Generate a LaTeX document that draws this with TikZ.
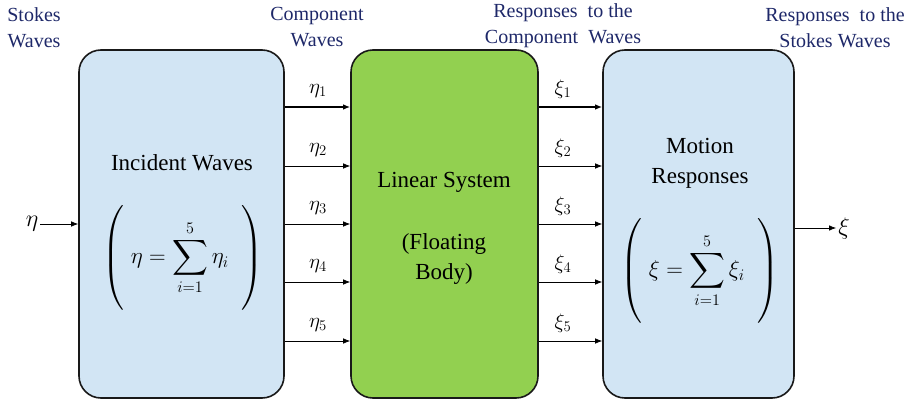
\RequirePackage{fix-cm}
\documentclass[tikz,border=0pt]{standalone}
\usepackage{amsmath}
\usepackage{fontspec}
\setmainfont{Liberation Serif}
\usetikzlibrary{arrows.meta}
\definecolor{boxblue}{RGB}{210,229,244}
\definecolor{boxgreen}{RGB}{146,208,80}
\definecolor{navy}{RGB}{30,40,105}
\begin{document}
\begin{tikzpicture}[x=1pt,y=-1pt,
  box/.style={draw=black!90, line width=1.6pt, rounded corners=22pt, minimum height=348pt, inner sep=0pt},
  toplbl/.style={text=navy, font=\fontsize{20}{26}\selectfont, align=center},
  intext/.style={font=\fontsize{23}{30}\selectfont, align=center},
  mathtxt/.style={font=\fontsize{23}{27}\selectfont},
  lbl/.style={font=\fontsize{21}{24}\selectfont, inner sep=1pt},
  arr/.style={-{Latex[length=7pt,width=5.5pt]}, line width=0.7pt},
  arrb/.style={arr, line width=1.3pt}]
\useasboundingbox (0,0) rectangle (916,404);

% boxes
\node[box, fill=boxblue,  minimum width=205pt] (lb) at (181.5,224) {};
\node[box, fill=boxgreen, minimum width=187pt] (gb) at (444.5,224) {};
\node[box, fill=boxblue,  minimum width=191pt] (rb) at (698.5,224) {};

% box texts
\node[intext] (inc) at (182,163) {Incident Waves};
\node[mathtxt] (lf) at (183,258) {$\displaystyle\left(\vrule height 46pt depth 46pt width 0pt\;\eta = \sum_{i=1}^{5}\eta_i\;\;\right)$};
\node[intext] (lin) at (444,182) {Linear System};
\node[intext] (flo) at (444,259) {(Floating\\Body)};
\node[intext] (mot) at (700,163) {Motion\\Responses};
\node[mathtxt] (rf) at (700,271) {$\displaystyle\left(\vrule height 46pt depth 46pt width 0pt\;\xi = \sum_{i=1}^{5}\xi_i\;\;\right)$};

% top labels
\node[toplbl] (t1) at (34,28) {Stokes\\Waves};
\node[toplbl] (t2) at (317,27) {Component\\Waves};
\node[toplbl] (t3) at (563,26) {Responses\ \ to the\\Component\ \ Waves};
\node[toplbl] (t4) at (835,28) {Responses\ \ to the\\Stokes Waves};

% row coordinates
\coordinate (r1) at (0,107);
\coordinate (r2) at (0,166);
\coordinate (r3) at (0,224);
\coordinate (r4) at (0,282);
\coordinate (r5) at (0,341);

% eta arrows
\draw[arrb] (lb.east |- r1) -- (gb.west |- r1);
\draw[arr]  (lb.east |- r2) -- (gb.west |- r2);
\draw[arr]  (lb.east |- r3) -- (gb.west |- r3);
\draw[arr]  (lb.east |- r4) -- (gb.west |- r4);
\draw[arr]  (lb.east |- r5) -- (gb.west |- r5);
% xi arrows
\draw[arrb] (gb.east |- r1) -- (rb.west |- r1);
\draw[arr]  (gb.east |- r2) -- (rb.west |- r2);
\draw[arr]  (gb.east |- r3) -- (rb.west |- r3);
\draw[arr]  (gb.east |- r4) -- (rb.west |- r4);
\draw[arr]  (gb.east |- r5) -- (rb.west |- r5);

% arrow labels
\node[lbl] (e1) at (318,91)  {$\eta_1$};
\node[lbl] (e2) at (318,150) {$\eta_2$};
\node[lbl] (e3) at (318,208) {$\eta_3$};
\node[lbl] (e4) at (318,266) {$\eta_4$};
\node[lbl] (e5) at (318,325) {$\eta_5$};
\node[lbl] (x1) at (563,89)  {$\xi_1$};
\node[lbl] (x2) at (563,148) {$\xi_2$};
\node[lbl] (x3) at (563,206) {$\xi_3$};
\node[lbl] (x4) at (563,264) {$\xi_4$};
\node[lbl] (x5) at (563,323) {$\xi_5$};

% input / output
\node[font=\fontsize{24}{28}\selectfont, inner sep=2pt] (eta) at (32,224) {$\eta$};
\draw[arr] (eta.east) -- (lb.west |- eta);
\node[font=\fontsize{24}{28}\selectfont, inner sep=2pt] (xi) at (844,228) {$\xi$};
\draw[arr] (rb.east |- xi) -- (xi.west);
\end{tikzpicture}
\end{document}
